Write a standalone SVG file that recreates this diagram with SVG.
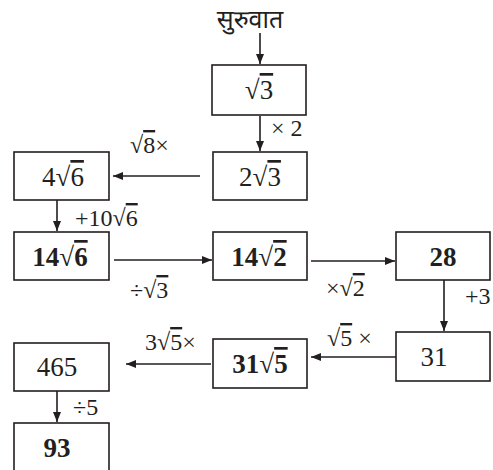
<svg xmlns="http://www.w3.org/2000/svg" width="493" height="470" viewBox="0 0 493 470">
<style>
.box{fill:#fff;stroke:#231f20;stroke-width:1.6}
.ov{text-decoration:overline}
.c line{stroke:#231f20;stroke-width:1.6;marker-end:url(#ah)}
</style>
<defs>
<marker id="ah" viewBox="0 0 10 8" refX="10" refY="4" markerWidth="10" markerHeight="8" markerUnits="userSpaceOnUse" orient="auto">
<path d="M0,0 L10,4 L0,8 Z" fill="#231f20"/>
</marker>
</defs>
<g id="start"><text x="250" y="28" font-family="Noto Sans Devanagari, Noto Serif Devanagari, Noto Sans, sans-serif" font-size="25" fill="#231f20" text-anchor="middle">सुरुवात</text></g>
<g class="c" id="connectors">
<line x1="260" y1="33" x2="260" y2="64"/>
<line x1="260" y1="116" x2="260" y2="151"/>
<line x1="200" y1="176" x2="113" y2="176"/>
<line x1="57" y1="200" x2="57" y2="231"/>
<line x1="114" y1="260" x2="212" y2="260"/>
<line x1="311" y1="261" x2="395" y2="261"/>
<line x1="444" y1="280" x2="444" y2="331"/>
<line x1="396" y1="357" x2="311" y2="357"/>
<line x1="211" y1="364" x2="126" y2="364"/>
<line x1="57" y1="391" x2="57" y2="422"/>
</g>
<g id="labels">
<text font-family="Liberation Serif" font-size="24" fill="#231f20" x="271" y="136">× 2</text>
<text font-family="Liberation Serif" font-size="24" fill="#231f20" x="130" y="153">√<tspan class="ov">8</tspan>×</text>
<text font-family="Liberation Serif" font-size="24" fill="#231f20" x="75" y="226">+10√<tspan class="ov">6</tspan></text>
<text font-family="Liberation Serif" font-size="24" fill="#231f20" x="130" y="298">÷√<tspan class="ov">3</tspan></text>
<text font-family="Liberation Serif" font-size="24" fill="#231f20" x="326" y="296">×√<tspan class="ov">2</tspan></text>
<text font-family="Liberation Serif" font-size="24" fill="#231f20" x="465" y="304">+3</text>
<text font-family="Liberation Serif" font-size="24" fill="#231f20" x="327" y="346">√<tspan class="ov">5</tspan> ×</text>
<text font-family="Liberation Serif" font-size="24" fill="#231f20" x="145" y="350">3√<tspan class="ov">5</tspan>×</text>
<text font-family="Liberation Serif" font-size="24" fill="#231f20" x="73" y="415">÷5</text>
</g>
<g id="n1"><rect class="box" x="212" y="65" width="94" height="50"/><text font-family="Liberation Serif" font-size="27" fill="#231f20" text-anchor="middle" x="259" y="99">√<tspan class="ov">3</tspan></text></g>
<g id="n2"><rect class="box" x="213" y="152" width="94" height="48"/><text font-family="Liberation Serif" font-size="27" fill="#231f20" text-anchor="middle" x="260" y="186">2√<tspan class="ov">3</tspan></text></g>
<g id="n3"><rect class="box" x="14" y="152" width="95" height="48"/><text font-family="Liberation Serif" font-size="27" fill="#231f20" text-anchor="middle" x="63" y="186">4√<tspan class="ov">6</tspan></text></g>
<g id="n4"><rect class="box" x="14" y="232" width="95" height="48"/><text font-family="Liberation Serif" font-weight="bold" font-size="27" fill="#231f20" text-anchor="middle" x="60" y="266">14√<tspan class="ov">6</tspan></text></g>
<g id="n5"><rect class="box" x="213" y="232" width="94" height="48"/><text font-family="Liberation Serif" font-weight="bold" font-size="27" fill="#231f20" text-anchor="middle" x="259" y="266">14√<tspan class="ov">2</tspan></text></g>
<g id="n6"><rect class="box" x="396" y="232" width="94" height="48"/><text font-family="Liberation Serif" font-weight="bold" font-size="27" fill="#231f20" text-anchor="middle" x="443" y="266">28</text></g>
<g id="n7"><rect class="box" x="396" y="332" width="94" height="49"/><text font-family="Liberation Serif" font-size="27" fill="#231f20" text-anchor="middle" x="434" y="366">31</text></g>
<g id="n8"><rect class="box" x="213" y="339" width="94" height="49"/><text font-family="Liberation Serif" font-weight="bold" font-size="27" fill="#231f20" text-anchor="middle" x="260" y="373">31√<tspan class="ov">5</tspan></text></g>
<g id="n9"><rect class="box" x="14" y="343" width="95" height="48"/><text font-family="Liberation Serif" font-size="27" fill="#231f20" text-anchor="middle" x="57" y="376">465</text></g>
<g id="n10"><rect class="box" x="14" y="423" width="95" height="60"/><text font-family="Liberation Serif" font-weight="bold" font-size="27" fill="#231f20" text-anchor="middle" x="57" y="457">93</text></g>
</svg>
